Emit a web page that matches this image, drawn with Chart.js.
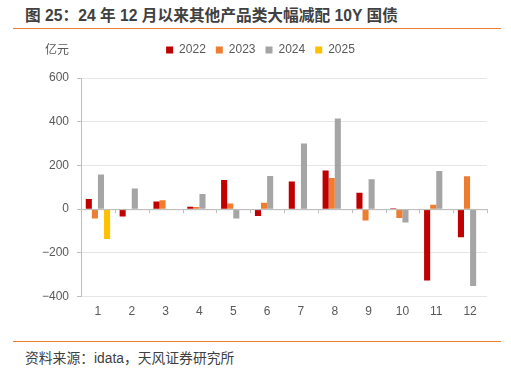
<!DOCTYPE html>
<html>
<head>
<meta charset="utf-8">
<script src="https://cdn.jsdelivr.net/npm/chart.js@4"></script>
<style>
  body { margin: 0; background: #fff; }
  #wrap { position: relative; width: 511px; height: 373px; font-family: "Liberation Sans", "Noto Sans CJK SC", sans-serif; }
  #title { position: absolute; left: 25px; top: 3px; font-size: 15.7px; font-weight: bold; color: #404040; white-space: nowrap; }
  .rule { position: absolute; left: 13px; width: 488px; height: 1px; background: #ED7D31; }
  #unit { position: absolute; left: 45px; top: 40px; font-size: 12px; color: #595959; }
  #source { position: absolute; left: 25px; top: 347px; font-size: 13.8px; color: #404040; }
  #box { position: absolute; left: 0; top: 30px; width: 511px; height: 300px; }
</style>
</head>
<body>
<div id="wrap">
  <div id="title">图 25：24 年 12 月以来其他产品类大幅减配 10Y 国债</div>
  <div class="rule" style="top:28px"></div>
  <div id="box"><canvas id="barChart"></canvas></div>
  <div id="unit">亿元</div>
  <div class="rule" style="top:341px"></div>
  <div id="source">资料来源：idata，天风证券研究所</div>
</div>
<script>
//monthly net change by year (亿元)
const months = ["1", "2", "3", "4", "5", "6", "7", "8", "9", "10", "11", "12"];
const y2022 = [47, -34, 35, 11, 133, -31, 127, 177, 75, 4, -326, -128];
const y2023 = [-43, -3, 41, 10, 26, 29, 0, 143, -52, -40, 20, 151];
const y2024 = [159, 95, 0, 69, -43, 152, 300, 415, 137, -61, 174, -351];
const y2025 = [-136, null, null, null, null, null, null, null, null, null, null, null];
const yTicks = [600, 400, 200, 0, -200, -400];

const tickFont = { family: '"Liberation Sans", "Noto Sans CJK SC", sans-serif', size: 12 };

//zero line with little ticks between months
const zeroLine = {
  id: "zeroLine",
  afterDatasetsDraw(chart) {
    const c = chart.ctx;
    const x = chart.scales.x;
    const y0 = chart.scales.y.getPixelForValue(0);
    c.save();
    c.strokeStyle = "#bfbfbf";
    c.lineWidth = 1;
    c.beginPath();
    c.moveTo(x.left, y0 + 0.5);
    c.lineTo(x.right, y0 + 0.5);
    for (let i = 0; i <= months.length; i++) {
      const px = Math.round(x.left + (x.right - x.left) * i / months.length) + 0.5;
      c.moveTo(px, y0);
      c.lineTo(px, y0 + 4);
    }
    c.stroke();
    c.restore();
  }
};

//extra room under the legend
const legendGap = {
  id: "legendGap",
  beforeInit(chart) {
    const fit = chart.legend.fit;
    chart.legend.fit = function () {
      fit.bind(chart.legend)();
      this.height += 12;
    };
  }
};

const ctx = document.getElementById("barChart");
new Chart(ctx, {
  type: "bar",
  data: {
    labels: months,
    datasets: [
      { label: "2022", data: y2022, backgroundColor: "#C00000" },
      { label: "2023", data: y2023, backgroundColor: "#ED7D31" },
      { label: "2024", data: y2024, backgroundColor: "#A5A5A5" },
      { label: "2025", data: y2025, backgroundColor: "#FFC000" },
    ],
  },
  options: {
    responsive: true,
    maintainAspectRatio: false,
    animation: false,
    datasets: { bar: { categoryPercentage: 0.72, barPercentage: 1 } },
    layout: { padding: { left: 34, right: 24, top: 4, bottom: 11 } },
    plugins: {
      legend: {
        labels: { boxWidth: 7, boxHeight: 7, padding: 10, color: "#595959", font: tickFont },
      },
      tooltip: { enabled: false },
    },
    scales: {
      x: {
        grid: { display: false },
        border: { display: false },
        ticks: { color: "#595959", font: tickFont, padding: 0 },
      },
      y: {
        min: -400,
        max: 600,
        afterBuildTicks: (axis) => { axis.ticks = yTicks.map((v) => ({ value: v })); },
        border: { color: "#bfbfbf" },
        grid: {
          color: (c) => (c.tick && c.tick.value === 0 ? "#bfbfbf" : "#e6e6e6"),
          tickColor: "#bfbfbf",
          tickLength: 4,
        },
        ticks: {
          color: "#595959",
          font: tickFont,
          padding: 8,
          callback: (v) => String(v).replace("-", "\u2212"),
        },
      },
    },
  },
  plugins: [zeroLine, legendGap],
});
</script>
</body>
</html>
